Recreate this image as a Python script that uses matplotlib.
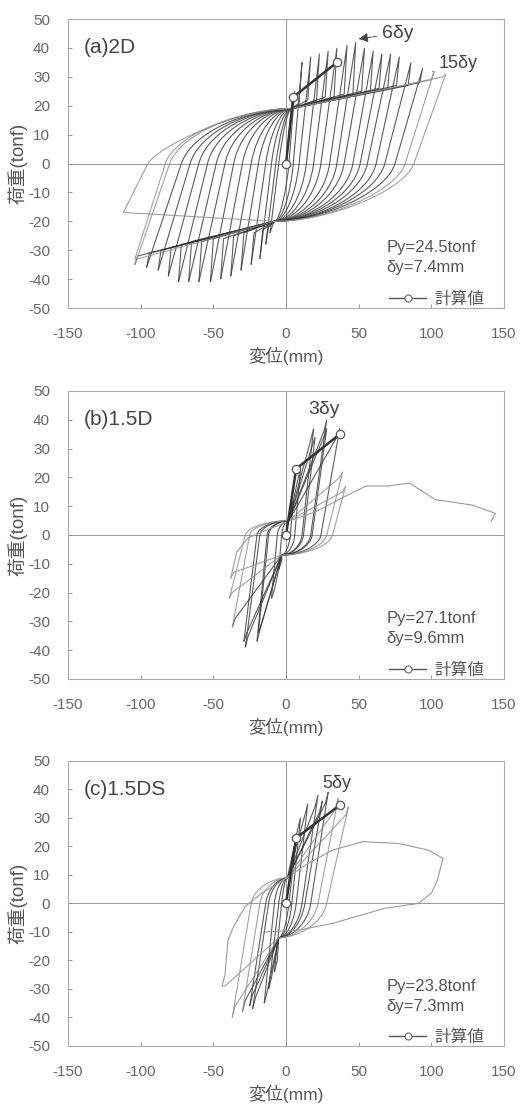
import numpy as np
import matplotlib
matplotlib.use("Agg")
import matplotlib.pyplot as plt
from matplotlib.path import Path
from matplotlib.patches import PathPatch
from matplotlib.lines import Line2D

plt.rcParams['font.family'] = ['Liberation Sans', 'Noto Sans CJK JP', 'DejaVu Sans']
plt.rcParams['axes.unicode_minus'] = False

# ---- (a) 2D : cycle peaks / zero crossings ----
a_pos_x = [6, 11, 17, 23, 29, 35, 42, 48, 54, 60, 66, 72, 78, 86, 94, 102, 110]
a_pos_y = [25, 35, 37, 38, 39, 40, 41, 42, 40, 39, 38, 38, 37, 35, 33, 32, 31]
a_pos_knee = [21, 21, 22, 22, 23, 23, 24, 24, 25, 25, 26, 26, 27, 27, 28, 29, 30]
a_pos_zero = [2, 5, 9, 14, 19, 24, 30, 35, 40, 46, 51, 56, 62, 68, 75, 82, 88]
a_neg_x = [-11, -14, -18, -24, -31, -38, -45, -52, -60, -67, -74, -81, -88, -96, -104, -104, -112]
a_neg_y = [-24, -28, -33, -35, -37, -39, -40, -41, -41, -41, -41, -39, -37, -36, -35, -33, -17]
a_neg_knee = [-21, -22, -23, -24, -24, -25, -26, -26, -27, -27, -28, -29, -30, -31, -32, -33, -17]
a_neg_zero = [-5, -7, -10, -14, -19, -24, -30, -36, -42, -48, -54, -60, -66, -72, -80, -83, -95]
a_pinch_pos = (4, 19)
a_pinch_neg = (-8, -20)
a_calc_x = [0, 5, 35]
a_calc_y = [0, 23, 35]

# ---- (b) 1.5D ----
b_pos_x = [5, 10, 19, 20, 28, 28, 37, 39, 41]
b_pos_y = [12, 23, 37, 34, 40, 37, 37, 22, 17]
b_pos_knee = [9, 19, 33, 31, 36, 34, 34, 20, 15]
b_pos_zero = [3, 6, 11, 12, 17, 18, 24, 28, 32]
b_neg_x = [-5, -10, -20, -19, -28, -29, -37, -39, -38]
b_neg_y = [-12, -22, -37, -34, -39, -37, -32, -22, -15]
b_neg_knee = [-9, -19, -33, -31, -35, -34, -29, -20, -13]
b_neg_zero = [-3, -6, -13, -12, -18, -20, -25, -28, -30]
b_pinch_pos = (2, 5)
b_pinch_neg = (-3, -7)
b_tail_x = [-38, -34, -26, -12, 3, 20, 41, 55, 70, 85, 103, 112, 128, 144, 141]
b_tail_y = [-15, -6, -1, 2, 5, 8, 13.5, 17, 17, 18, 12.2, 11.6, 10.4, 7.5, 4.6]
b_calc_x = [0, 7, 37]
b_calc_y = [0, 23, 35]

# ---- (c) 1.5DS ----
c_pos_x = [7, 10, 15, 22, 25, 29, 36, 43]
c_pos_y = [22, 30, 35, 38, 36, 39, 37, 34]
c_pos_knee = [18, 26, 31, 34, 32, 35, 33, 31]
c_pos_zero = [2, 4, 7, 11, 13, 17, 22, 28]
c_neg_x = [-8, -12, -15, -23, -25, -30, -37, -44]
c_neg_y = [-24, -30, -35, -37, -36, -38, -40, -29]
c_neg_knee = [-20, -26, -31, -33, -32, -34, -36, -29]
c_neg_zero = [-3, -5, -8, -12, -14, -18, -24, -28]
c_pinch_pos = (1, 9)
c_pinch_neg = (-5, -12)
c_tail_x = [-44, -42, -40, -36, -28, -17, 0, 15, 32, 53, 78, 98, 108, 104, 100, 91, 68, 32, 9, -14]
c_tail_y = [-29, -25, -13, -8, -1, 3.5, 8.8, 14, 18.7, 21.7, 21, 18.7, 15.8, 8, 3.6, 0, -1.7, -7, -9.3, -10]
c_calc_x = [0, 7, 37]
c_calc_y = [0, 23, 34.5]

xticks = [-150, -100, -50, 0, 50, 100, 150]
yticks = [50, 40, 30, 20, 10, 0, -10, -20, -30, -40, -50]


def branch(v, c, peak, zero_x, pin):
    # straight unloading from the peak to the zero crossing, then a smooth bend into the pinch point
    dxp, dyp = zero_x - peak[0], -peak[1]
    s = min(0.3, 0.6 * abs(pin[1]) / max(abs(dyp), 1e-6))
    v += [(zero_x, 0.0),
          (zero_x + s * dxp, s * dyp),
          (pin[0] - 0.4 * (pin[0] - zero_x), pin[1]),
          pin]
    c += [Path.LINETO, Path.CURVE4, Path.CURVE4, Path.CURVE4]


def cycle_paths(px, py, pk, pz, nx, ny, nk, nz, pin_p, pin_n, dx, trail=False):
    paths = []
    prev, prev_z = (0.0, 0.0), None
    for i in range(len(px)):
        v, c = [prev], [Path.MOVETO]
        if prev_z is not None:
            branch(v, c, prev, prev_z, pin_p)
        v += [(px[i] - dx, pk[i]), (px[i], py[i])]
        c += [Path.LINETO] * 2
        branch(v, c, (px[i], py[i]), pz[i], pin_n)
        v += [(nx[i] + dx, nk[i]), (nx[i], ny[i])]
        c += [Path.LINETO] * 2
        paths.append(Path(v, c))
        prev, prev_z = (nx[i], ny[i]), nz[i]
    if trail:
        v, c = [prev], [Path.MOVETO]
        branch(v, c, prev, prev_z, pin_p)
        paths.append(Path(v, c))
    return paths


fig = plt.figure(figsize=(5.2, 11.12), dpi=100)
rects = [(0.1308, 0.7230, 0.8385, 0.2599),
         (0.1308, 0.3894, 0.8385, 0.2590),
         (0.1308, 0.0594, 0.8385, 0.2563)]

panels = [
    dict(label="(a)2D", cyc=(a_pos_x, a_pos_y, a_pos_knee, a_pos_zero, a_neg_x, a_neg_y, a_neg_knee, a_neg_zero,
                             a_pinch_pos, a_pinch_neg, 2, True), tail=None, calc=(a_calc_x, a_calc_y),
         py="Py=24.5tonf", dy="δy=7.4mm"),
    dict(label="(b)1.5D", cyc=(b_pos_x, b_pos_y, b_pos_knee, b_pos_zero, b_neg_x, b_neg_y, b_neg_knee, b_neg_zero,
                               b_pinch_pos, b_pinch_neg, 2), tail=(b_tail_x, b_tail_y), calc=(b_calc_x, b_calc_y),
         py="Py=27.1tonf", dy="δy=9.6mm"),
    dict(label="(c)1.5DS", cyc=(c_pos_x, c_pos_y, c_pos_knee, c_pos_zero, c_neg_x, c_neg_y, c_neg_knee, c_neg_zero,
                                c_pinch_pos, c_pinch_neg, 2), tail=(c_tail_x, c_tail_y), calc=(c_calc_x, c_calc_y),
         py="Py=23.8tonf", dy="δy=7.3mm"),
]

grey = "#555555"
for k, (rect, p) in enumerate(zip(rects, panels)):
    ax = fig.add_axes(rect)
    ax.set_xlim(-150, 150)
    ax.set_ylim(-50, 50)
    ax.axhline(0, color="#999999", lw=0.7, zorder=1)
    ax.axvline(0, color="#999999", lw=0.7, zorder=1)

    paths = cycle_paths(*p["cyc"])
    n = len(paths)
    nfaint = 3 if k == 0 else 2
    for j, pth in enumerate(paths):
        col = "#333333" if j < n - nfaint else "#8a8a8a"
        ax.add_patch(PathPatch(pth, fill=False, edgecolor=col, lw=0.8, alpha=0.8, zorder=2))
    if p["tail"] is not None:
        ax.plot(p["tail"][0], p["tail"][1], color="#9a9a9a", lw=0.8, zorder=2)

    cx, cy = p["calc"]
    ax.plot(cx, cy, "-o", color="#333333", lw=1.8, ms=6, mfc="white", mec="#555555",
            mew=0.9, zorder=4)

    ax.text(-139, 40, p["label"], fontsize=15, color="#444444", va="center", ha="left")
    ax.text(69, -29, p["py"], fontsize=12, color=grey, va="center", ha="left")
    ax.text(69, -36, p["dy"], fontsize=12, color=grey, va="center", ha="left")
    handle = Line2D([], [], color="#555555", lw=1.0, marker="o", ms=5, mfc="white", mec="#666666",
                    mew=0.8, label="計算値")
    ax.legend(handles=[handle], loc="lower right", bbox_to_anchor=(0.97, -0.02), frameon=False,
              fontsize=12, handlelength=2.2, handletextpad=0.5, borderaxespad=0, labelcolor=grey)

    ax.set_xticks(xticks)
    ax.set_yticks(yticks)
    ax.tick_params(direction="in", length=3, width=0.6, colors="#888888", labelcolor="#666666",
                   labelsize=11)
    ax.tick_params(axis="x", pad=14)
    ax.tick_params(axis="y", pad=13)
    for s in ax.spines.values():
        s.set_color("#aaaaaa")
        s.set_linewidth(0.8)
    ax.set_xlabel("変位(mm)", fontsize=12.5, color=grey, labelpad=4)
    ax.set_ylabel("荷重(tonf)", fontsize=13.5, color=grey, labelpad=0)

    if k == 0:
        ax.annotate("6δy", xy=(48, 43), xytext=(66, 45), fontsize=14, color="#444444", va="center",
                    arrowprops=dict(arrowstyle="-|>", linestyle="--", color="#444444", lw=0.7))
        ax.annotate("15δy", xy=(99, 31.5), xytext=(105, 34.5), fontsize=13, color="#444444", va="center",
                    arrowprops=dict(arrowstyle="-", linestyle="--", color="#777777", lw=0.7))
    elif k == 1:
        ax.text(26, 43.5, "3δy", fontsize=14, color="#444444", va="center", ha="center")
    else:
        ax.text(35, 42, "5δy", fontsize=13, color="#444444", va="center", ha="center")

fig.savefig("out.png", dpi=100)
